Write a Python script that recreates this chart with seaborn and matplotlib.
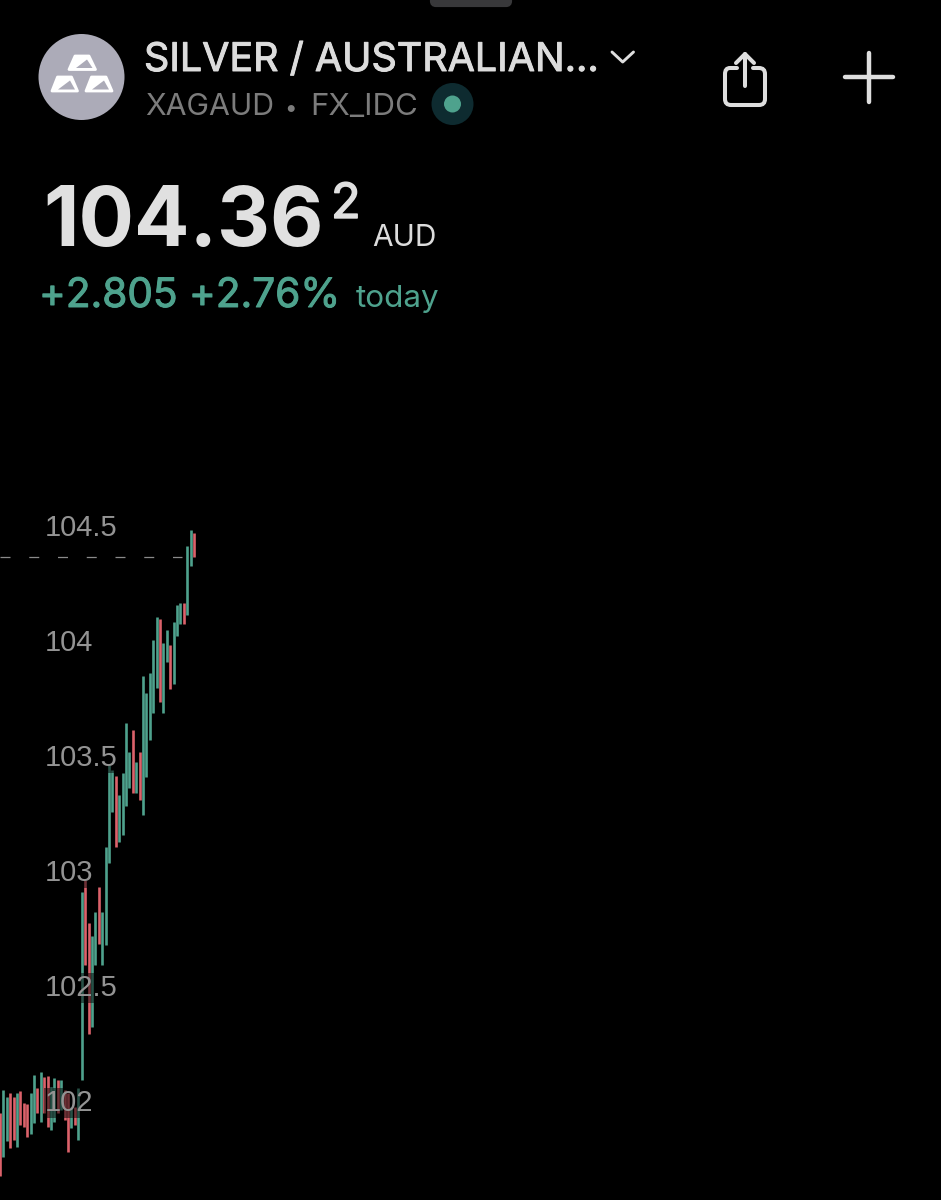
#!/usr/bin/env python3
"""XAGAUD phone screenshot: range bars with the quote header on top."""

import matplotlib
matplotlib.use("Agg")
import matplotlib.pyplot as plt
import matplotlib.patheffects as pe
from matplotlib.patches import Circle, FancyBboxPatch, PathPatch, Polygon
from matplotlib.path import Path
import pandas as pd
import seaborn as sns

# Bar data, oldest first
highs = [101.943, 102.043, 102.013, 102.030, 102.013, 102.030, 102.039, 101.987, 101.983, 102.030,
         102.109, 102.052, 102.122, 102.100, 102.104, 102.057, 102.096, 102.087, 102.087, 102.043,
         102.030, 101.970, 101.970, 102.052, 102.904, 102.957, 102.770, 102.713, 102.817, 102.926,
         102.817, 103.100, 103.457, 103.435, 103.409, 103.326, 103.422, 103.639, 103.513, 103.609,
         103.470, 103.513, 103.843, 103.770, 103.857, 104.000, 104.100, 104.091, 103.987, 104.043,
         103.978, 104.078, 104.152, 104.161, 104.161, 104.409, 104.478, 104.465]
lows = [101.670, 101.752, 101.822, 101.791, 101.826, 101.796, 101.891, 101.883, 101.839, 101.852,
        101.900, 101.943, 101.904, 101.943, 101.883, 101.870, 101.904, 101.943, 101.957, 101.913,
        101.774, 101.878, 101.891, 101.826, 102.087, 102.587, 102.287, 102.317, 102.587, 102.678,
        102.587, 102.674, 103.030, 103.252, 103.100, 103.122, 103.152, 103.278, 103.357, 103.335,
        103.335, 103.304, 103.239, 103.404, 103.565, 103.683, 103.791, 103.730, 103.683, 103.904,
        103.787, 103.809, 104.017, 104.070, 104.070, 104.109, 104.322, 104.361]
sides = ["r", "g", "g", "r", "r", "g", "r", "r", "r", "g",
         "g", "r", "g", "r", "r", "g", "g", "r", "g", "r",
         "r", "g", "r", "g", "g", "r", "r", "g", "g", "r",
         "g", "g", "g", "g", "r", "g", "g", "g", "g", "r",
         "g", "r", "g", "g", "g", "g", "g", "r", "g", "g",
         "r", "g", "g", "g", "r", "g", "g", "r"]
tick_values = [102, 102.5, 103, 103.5, 104, 104.5]
tick_labels = ["102", "102.5", "103", "103.5", "104", "104.5"]
last_price = 104.362

GREEN = "#4ea28d"
RED = "#dc626b"
ICON = "#dedede"

sns.set_theme(style="dark", rc={"axes.facecolor": "black", "figure.facecolor": "black"})
plt.rcParams["font.family"] = ["Inter", "DejaVu Sans"]

df = pd.DataFrame({"bar": range(len(highs)), "high": highs, "low": lows, "side": sides})
long_df = df.melt(id_vars=["bar", "side"], value_vars=["low", "high"], value_name="price")

fig = plt.figure(figsize=(9.41, 12), dpi=100)
ax = fig.add_axes([0, 0, 1, 1])

# zorder under the axis so the price labels sit on top of the bars
sns.lineplot(data=long_df, x="bar", y="price", hue="side", units="bar", estimator=None,
             palette={"g": GREEN, "r": RED}, linewidth=1.9, solid_capstyle="butt",
             legend=False, ax=ax, zorder=2)

# dashed last price line, stops just before the last bars
ax.hlines(last_price, 0, 53.5, color="#8a8a8a", linewidth=0.9, linestyle=(0, (8, 15)), zorder=1)

ax.set_xlim(0, 276.44)
ax.set_ylim(101.565, 106.783)
ax.set_xlabel("")
ax.set_ylabel("")
ax.set_xticks([])
ax.set_yticks(tick_values, tick_labels)
ax.set_axisbelow(False)
ax.grid(False)
ax.tick_params(axis="y", length=0, pad=-32.4, labelsize=21, labelcolor="#939393")
for label in ax.get_yticklabels():
    label.set_ha("left")
    label.set_family(["Liberation Sans", "DejaVu Sans"])
    label.set_bbox(dict(facecolor="black", alpha=0.5, edgecolor="none", pad=0.5))
for spine in ax.spines.values():
    spine.set_visible(False)

# --- Header, drawn in screen pixels ---
ui = fig.add_axes([0, 0, 1, 1])
ui.set_xlim(0, 941)
ui.set_ylim(1200, 0)
ui.axis("off")
ui.patch.set_alpha(0)

ui.add_patch(FancyBboxPatch((432, -10), 78, 15, boxstyle="round,pad=0,rounding_size=4",
                            facecolor="#38383a", edgecolor="#38383a", linewidth=3))

# silver logo
ui.add_patch(Circle((81.5, 77), 43, facecolor="#acabb8", edgecolor="none"))
bars_outer = [[(75, 56), (89, 56), (95.5, 69.5), (69, 69.5)],
              [(57.5, 77), (71.5, 77), (77.5, 91), (52, 91)],
              [(91.5, 77), (106, 77), (112, 91), (86, 91)]]
bars_inner = [[(76, 68), (87, 59.5), (92.5, 68)],
              [(58, 89.5), (70, 80.5), (75, 89.5)],
              [(92, 89.5), (104, 80.5), (109, 89.5)]]
for poly in bars_outer:
    ui.add_patch(Polygon(poly, closed=True, facecolor="white", edgecolor="white", linewidth=2, joinstyle="round"))
for poly in bars_inner:
    ui.add_patch(Polygon(poly, closed=True, facecolor="#acabb8", edgecolor="none"))

# Inter renders regular here, a thin stroke stands in for the medium weight
medium = [pe.withStroke(linewidth=0.7, foreground="#dcdcdc")]
ui.text(144, 71, "SILVER / AUSTRALIAN...", color="#dcdcdc", fontsize=28.4, va="baseline", path_effects=medium)
ui.text(145, 115, "XAGAUD", color="#7c7c7c", fontsize=21.8, va="baseline")
ui.text(291, 115, "\u2022", color="#7c7c7c", fontsize=16, ha="center", va="baseline")
ui.text(310, 115, "FX_IDC", color="#7c7c7c", fontsize=22.5, va="baseline")
ui.add_patch(Circle((452.5, 104), 21, facecolor="#0e2b30", edgecolor="none"))
ui.add_patch(Circle((452.5, 104), 8.5, facecolor=GREEN, edgecolor="none"))

ui.plot([612, 622.7, 633.5], [52, 62, 52], color=ICON, linewidth=2.1, solid_capstyle="round", solid_joinstyle="round")

# share icon
box = Path([(737, 68), (730, 68), (725, 68), (725, 74), (725, 99), (725, 105), (731, 105),
            (759, 105), (765, 105), (765, 99), (765, 74), (765, 68), (759, 68), (753, 68)],
           [Path.MOVETO, Path.LINETO, Path.CURVE3, Path.CURVE3, Path.LINETO, Path.CURVE3, Path.CURVE3,
            Path.LINETO, Path.CURVE3, Path.CURVE3, Path.LINETO, Path.CURVE3, Path.CURVE3, Path.LINETO])
ui.add_patch(PathPatch(box, facecolor="none", edgecolor=ICON, linewidth=2.9, capstyle="round"))
ui.plot([745, 745], [54, 86], color=ICON, linewidth=2.9, solid_capstyle="round")
ui.plot([736, 745, 754], [63, 54, 63], color=ICON, linewidth=2.9, solid_capstyle="round", solid_joinstyle="round")

# plus icon
ui.plot([845, 893], [77, 77], color=ICON, linewidth=3.2, solid_capstyle="round")
ui.plot([869, 869], [53, 102], color=ICON, linewidth=3.2, solid_capstyle="round")

# quote
ui.text(43, 246, "104.36", color="#e0e0e0", fontsize=59.3, fontweight="bold", va="baseline")
ui.text(331, 218, "2", color="#e0e0e0", fontsize=35, va="baseline",
        path_effects=[pe.withStroke(linewidth=1.0, foreground="#e0e0e0")])
ui.text(372, 246, "AUD", color="#dcdcdc", fontsize=21.5, va="baseline")
ui.text(39, 307, "+2.805 +2.76%", color=GREEN, fontsize=29.2, va="baseline",
        path_effects=[pe.withStroke(linewidth=0.7, foreground=GREEN)])
ui.text(356, 307, "today", color=GREEN, fontsize=22.6, va="baseline")

fig.savefig("out.png", dpi=100, facecolor="black")
